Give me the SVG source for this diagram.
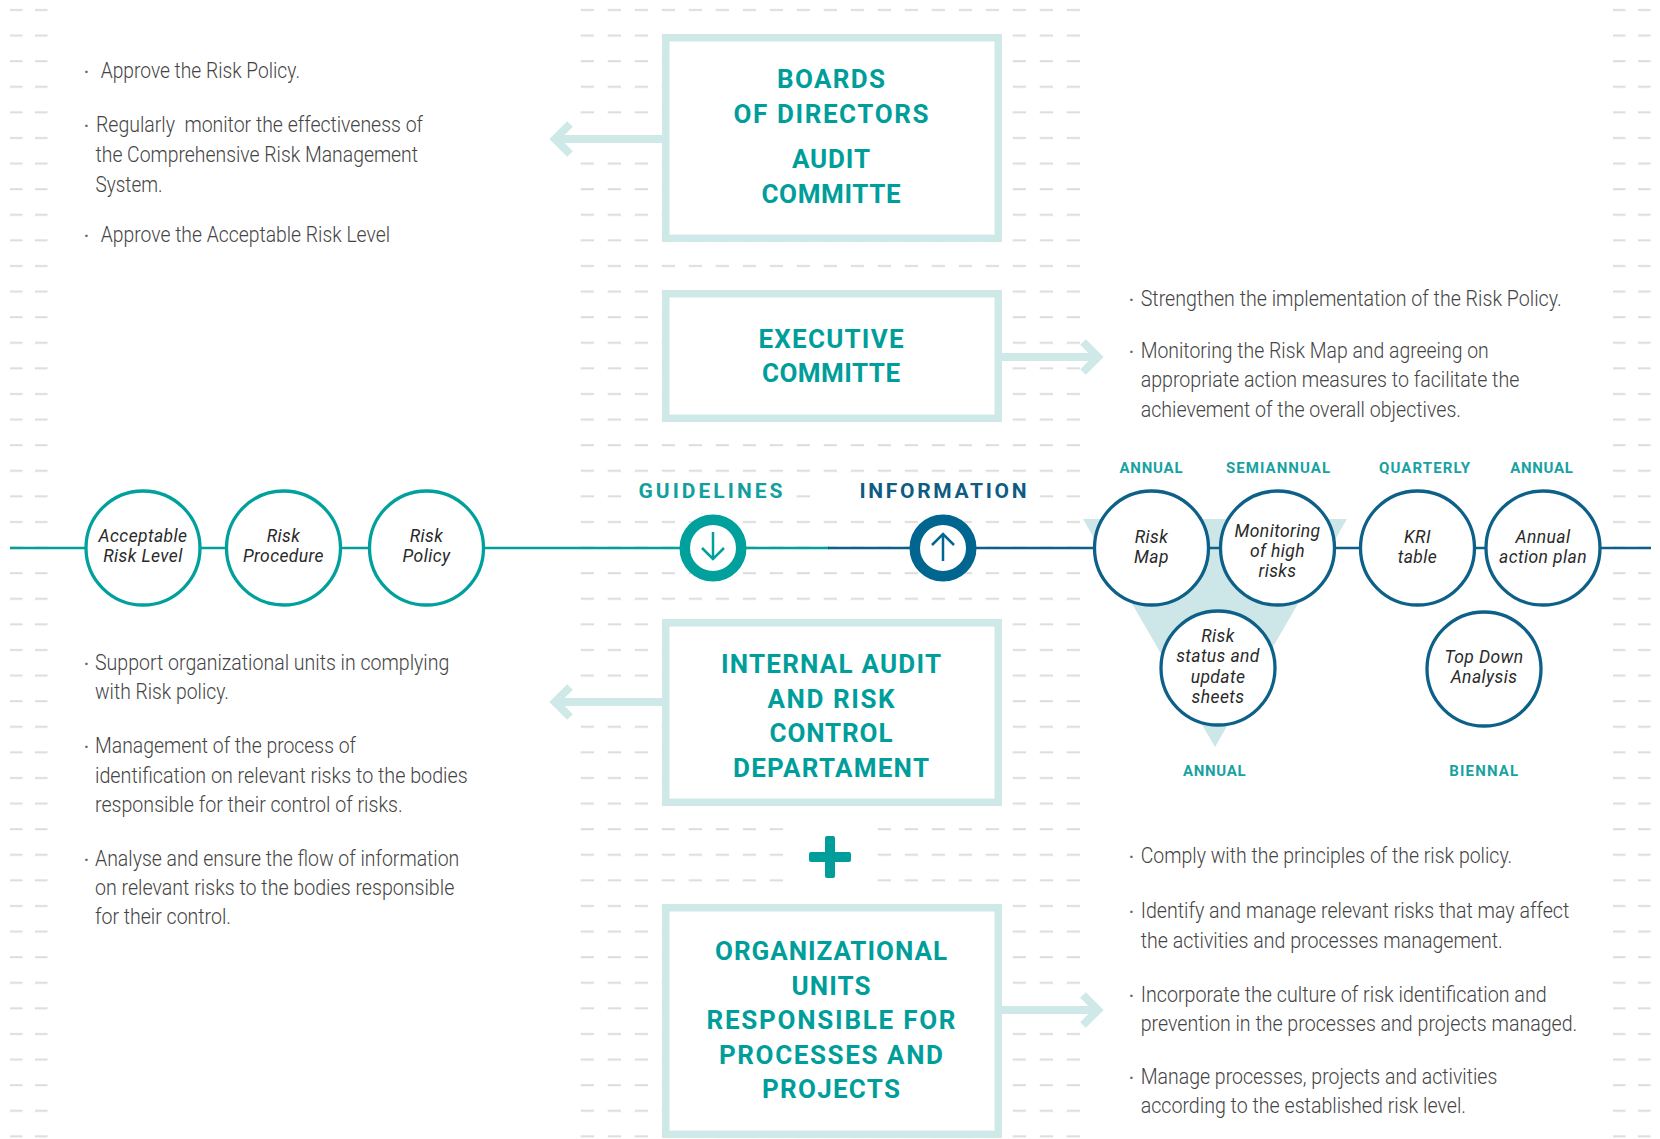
<svg xmlns="http://www.w3.org/2000/svg" width="1660" height="1139" viewBox="0 0 1660 1139">
<defs>
<pattern id="dashSide" patternUnits="userSpaceOnUse" x="8" y="0" width="25" height="25.6"><rect x="2" y="9" width="12.5" height="2" fill="#DDDDDD"/></pattern>
<pattern id="dashSideR" patternUnits="userSpaceOnUse" x="1611" y="0" width="25" height="25.6"><rect x="2" y="9" width="12.5" height="2" fill="#DDDDDD"/></pattern>
<pattern id="dashMid" patternUnits="userSpaceOnUse" x="578" y="0" width="27" height="25.6"><rect x="2.7" y="9" width="13.3" height="2" fill="#DDDDDD"/></pattern>
<style>
.box{fill:#fff;stroke:#CFE8E8;stroke-width:7.5}
.title{font-family:Roboto,"DejaVu Sans",sans-serif;font-weight:700;font-size:26px;fill:#009E9B;text-anchor:middle;letter-spacing:2px}
.body{font-family:Roboto,"Liberation Sans",sans-serif;font-weight:300;font-size:22.5px;fill:#444}
.bul{font-family:Roboto,"Liberation Sans",sans-serif;font-weight:700;font-size:16px;fill:#666}
.arrow{fill:none;stroke:#CFE8E8;stroke-width:8;stroke-linejoin:miter;stroke-linecap:butt}
.cT{fill:#fff;stroke:#00A09D;stroke-width:3.3}
.cB{fill:#fff;stroke:#0D6088;stroke-width:3.3}
.ct{font-family:Roboto,"DejaVu Sans",sans-serif;font-style:italic;font-weight:400;font-size:17.5px;fill:#2A2A2A;text-anchor:middle;letter-spacing:0.4px}
.lbl{font-family:Roboto,"DejaVu Sans",sans-serif;font-weight:700;font-size:15px;fill:#17A2A1;text-anchor:middle;letter-spacing:2px}
.big{font-family:Roboto,"DejaVu Sans",sans-serif;font-weight:700;font-size:21px;text-anchor:middle;letter-spacing:4px}
</style>
</defs>
<rect width="1660" height="1139" fill="#fff"/>
<g id="grid">
<rect x="8" y="0" width="50" height="1139" fill="url(#dashSide)"/>
<rect x="1611" y="0" width="50" height="1139" fill="url(#dashSideR)"/>
<rect x="578" y="0" width="505" height="1139" fill="url(#dashMid)"/>
<rect x="630" y="485" width="165" height="18" fill="#fff"/>
<rect x="818" y="485" width="218" height="18" fill="#fff"/>
<rect x="788" y="822" width="86" height="70" fill="#fff"/>
</g>
<g id="connectors">
<polygon points="1083,519 1347,519 1215,747" fill="#CDE7E8"/>
<line x1="10" y1="548" x2="829" y2="548" stroke="#00A09D" stroke-width="2.7"/>
<line x1="828" y1="548" x2="1651" y2="548" stroke="#0D6088" stroke-width="2.7"/>
<line class="arrow" x1="553" y1="139" x2="662" y2="139"/>
<polyline class="arrow" points="570,124 555,139 570,154"/>
<line class="arrow" x1="553" y1="702" x2="662" y2="702"/>
<polyline class="arrow" points="570,687 555,702 570,717"/>
<line class="arrow" x1="1002" y1="357" x2="1096" y2="357"/>
<polyline class="arrow" points="1083,342 1098,357 1083,372"/>
<line class="arrow" x1="1002" y1="1010" x2="1096" y2="1010"/>
<polyline class="arrow" points="1083,995 1098,1010 1083,1025"/>
</g>
<g id="board">
<rect class="box" x="665.75" y="37.75" width="332.5" height="200.5"/>
<text class="title" x="832" y="88" textLength="110">BOARDS</text>
<text class="title" x="832" y="123" textLength="197">OF DIRECTORS</text>
<text class="title" x="832" y="168" textLength="80">AUDIT</text>
<text class="title" x="832" y="203" textLength="141">COMMITTE</text>
</g>
<g id="executive">
<rect class="box" x="665.75" y="293.75" width="332.5" height="124.5"/>
<text class="title" x="832" y="347.5" textLength="147">EXECUTIVE</text>
<text class="title" x="832" y="381.5" textLength="140">COMMITTE</text>
</g>
<g id="internal-audit">
<rect class="box" x="665.75" y="622.75" width="332.5" height="179.5"/>
<text class="title" x="832" y="673" textLength="222">INTERNAL AUDIT</text>
<text class="title" x="832" y="707.5" textLength="129">AND RISK</text>
<text class="title" x="832" y="742" textLength="125">CONTROL</text>
<text class="title" x="832" y="776.5" textLength="198">DEPARTAMENT</text>
</g>
<g id="plus">
<rect x="809" y="852" width="42" height="10" rx="2" fill="#009E9B"/>
<rect x="825" y="836" width="10" height="42" rx="2" fill="#009E9B"/>
</g>
<g id="org-units">
<rect class="box" x="665.75" y="907.75" width="332.5" height="226.5"/>
<text class="title" x="832" y="960" textLength="234">ORGANIZATIONAL</text>
<text class="title" x="832" y="994.5" textLength="81">UNITS</text>
<text class="title" x="832" y="1029" textLength="251">RESPONSIBLE FOR</text>
<text class="title" x="832" y="1063.5" textLength="226">PROCESSES AND</text>
<text class="title" x="832" y="1098" textLength="140">PROJECTS</text>
</g>
<g id="guidelines">
<text class="big" x="712.5" y="497.5" fill="#139E9F" textLength="148">GUIDELINES</text>
<circle cx="713" cy="548" r="28.25" fill="#fff" stroke="#00A09D" stroke-width="10.5"/>
<path d="M713 532 V559 M702 548 L713 559 L724 548" fill="none" stroke="#00A09D" stroke-width="2.5"/>
</g>
<g id="information">
<text class="big" x="945" y="497.5" fill="#0E5C82" textLength="171">INFORMATION</text>
<circle cx="943" cy="548" r="28.25" fill="#fff" stroke="#006690" stroke-width="10.5"/>
<path d="M943 561 V534 M932 545 L943 534 L954 545" fill="none" stroke="#006690" stroke-width="2.5"/>
</g>
<g id="acceptable-risk-level">
<circle class="cT" cx="143" cy="548" r="57"/>
<text class="ct" x="143" y="541.5">Acceptable</text>
<text class="ct" x="143" y="562.3">Risk Level</text>
</g>
<g id="risk-procedure">
<circle class="cT" cx="283.5" cy="548" r="57"/>
<text class="ct" x="283.5" y="541.5">Risk</text>
<text class="ct" x="283.5" y="562.3">Procedure</text>
</g>
<g id="risk-policy">
<circle class="cT" cx="426.5" cy="548" r="57"/>
<text class="ct" x="426.5" y="541.5">Risk</text>
<text class="ct" x="426.5" y="562.3">Policy</text>
</g>
<g id="risk-map">
<circle class="cB" cx="1151.5" cy="548" r="57"/>
<text class="ct" x="1151.5" y="542.5">Risk</text>
<text class="ct" x="1151.5" y="563.2">Map</text>
<text class="lbl" x="1152" y="473" textLength="65">ANNUAL</text>
</g>
<g id="monitoring">
<circle class="cB" cx="1277.5" cy="548" r="57"/>
<text class="ct" x="1277.5" y="536.7">Monitoring</text>
<text class="ct" x="1277.5" y="556.7">of high</text>
<text class="ct" x="1277.5" y="576.7">risks</text>
<text class="lbl" x="1279" y="473" textLength="106">SEMIANNUAL</text>
</g>
<g id="kri-table">
<circle class="cB" cx="1417.5" cy="548" r="57"/>
<text class="ct" x="1417.5" y="542.5">KRI</text>
<text class="ct" x="1417.5" y="563.2">table</text>
<text class="lbl" x="1425.5" y="473" textLength="93">QUARTERLY</text>
</g>
<g id="annual-action-plan">
<circle class="cB" cx="1543" cy="548" r="57"/>
<text class="ct" x="1543" y="542.5">Annual</text>
<text class="ct" x="1543" y="563.2">action plan</text>
<text class="lbl" x="1542.5" y="473" textLength="64.5">ANNUAL</text>
</g>
<g id="risk-status">
<circle class="cB" cx="1218" cy="668" r="57"/>
<text class="ct" x="1218" y="641.5">Risk</text>
<text class="ct" x="1218" y="662">status and</text>
<text class="ct" x="1218" y="682.5">update</text>
<text class="ct" x="1218" y="703">sheets</text>
<text class="lbl" x="1215.3" y="775.5" textLength="64.5">ANNUAL</text>
</g>
<g id="top-down">
<circle class="cB" cx="1484" cy="669" r="57"/>
<text class="ct" x="1484" y="662.7">Top Down</text>
<text class="ct" x="1484" y="683.3">Analysis</text>
<text class="lbl" x="1484.7" y="775.5" textLength="71">BIENNAL</text>
</g>
<g id="text-board">
<text class="bul" x="84" y="77">·</text>
<text class="body" x="100.7" y="78" textLength="199.3" lengthAdjust="spacingAndGlyphs">Approve the Risk Policy.</text>
<text class="bul" x="84" y="130.5">·</text>
<text class="body" x="96" y="131.5" textLength="327" lengthAdjust="spacingAndGlyphs" xml:space="preserve">Regularly  monitor the effectiveness of</text>
<text class="body" x="95.5" y="161.5" textLength="322.5" lengthAdjust="spacingAndGlyphs">the Comprehensive Risk Management</text>
<text class="body" x="95.5" y="191.5" textLength="67" lengthAdjust="spacingAndGlyphs">System.</text>
<text class="bul" x="84" y="240.5">·</text>
<text class="body" x="100.7" y="241.5" textLength="289.3" lengthAdjust="spacingAndGlyphs">Approve the Acceptable Risk Level</text>
</g>
<g id="text-executive">
<text class="bul" x="1129" y="304.5">·</text>
<text class="body" x="1140.7" y="305.5" textLength="421" lengthAdjust="spacingAndGlyphs">Strengthen the implementation of the Risk Policy.</text>
<text class="bul" x="1129" y="356.5">·</text>
<text class="body" x="1140.7" y="357.5" textLength="348" lengthAdjust="spacingAndGlyphs">Monitoring the Risk Map and agreeing on</text>
<text class="body" x="1140.7" y="387" textLength="378.6" lengthAdjust="spacingAndGlyphs">appropriate action measures to facilitate the</text>
<text class="body" x="1140.7" y="416.5" textLength="320.3" lengthAdjust="spacingAndGlyphs">achievement of the overall objectives.</text>
</g>
<g id="text-internal-audit">
<text class="bul" x="84" y="669">·</text>
<text class="body" x="95" y="670" textLength="354.3" lengthAdjust="spacingAndGlyphs">Support organizational units in complying</text>
<text class="body" x="95" y="699.3" textLength="134" lengthAdjust="spacingAndGlyphs">with Risk policy.</text>
<text class="bul" x="84" y="752.3">·</text>
<text class="body" x="95" y="753.3" textLength="261" lengthAdjust="spacingAndGlyphs">Management of the process of</text>
<text class="body" x="95" y="782.7" textLength="372.7" lengthAdjust="spacingAndGlyphs">identification on relevant risks to the bodies</text>
<text class="body" x="95" y="811.7" textLength="307.7" lengthAdjust="spacingAndGlyphs">responsible for their control of risks.</text>
<text class="bul" x="84" y="864.7">·</text>
<text class="body" x="95" y="865.7" textLength="364.3" lengthAdjust="spacingAndGlyphs">Analyse and ensure the flow of information</text>
<text class="body" x="95" y="895" textLength="359.3" lengthAdjust="spacingAndGlyphs">on relevant risks to the bodies responsible</text>
<text class="body" x="95" y="924" textLength="136" lengthAdjust="spacingAndGlyphs">for their control.</text>
</g>
<g id="text-org-units">
<text class="bul" x="1129" y="862.3">·</text>
<text class="body" x="1140.7" y="863.3" textLength="371.6" lengthAdjust="spacingAndGlyphs">Comply with the principles of the risk policy.</text>
<text class="bul" x="1129" y="916.7">·</text>
<text class="body" x="1140.7" y="917.7" textLength="428.6" lengthAdjust="spacingAndGlyphs">Identify and manage relevant risks that may affect</text>
<text class="body" x="1140.7" y="947.7" textLength="362" lengthAdjust="spacingAndGlyphs">the activities and processes management.</text>
<text class="bul" x="1129" y="1000.7">·</text>
<text class="body" x="1140.7" y="1001.7" textLength="406" lengthAdjust="spacingAndGlyphs">Incorporate the culture of risk identification and</text>
<text class="body" x="1140.7" y="1031" textLength="436.6" lengthAdjust="spacingAndGlyphs">prevention in the processes and projects managed.</text>
<text class="bul" x="1129" y="1083.3">·</text>
<text class="body" x="1140.7" y="1084.3" textLength="356.6" lengthAdjust="spacingAndGlyphs">Manage processes, projects and activities</text>
<text class="body" x="1140.7" y="1113.3" textLength="325.3" lengthAdjust="spacingAndGlyphs">according to the established risk level.</text>
</g>
</svg>
